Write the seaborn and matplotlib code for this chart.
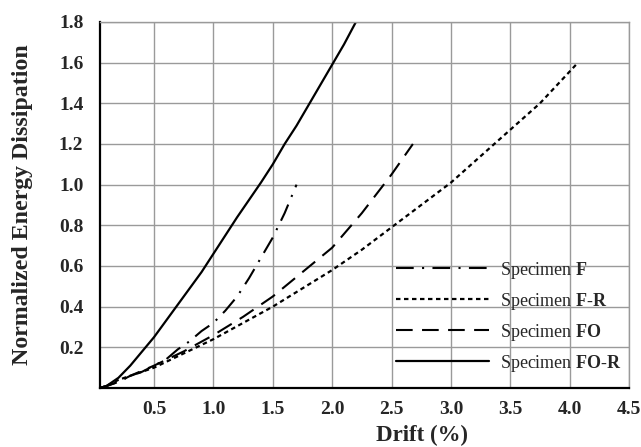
import matplotlib
matplotlib.use("Agg")
import matplotlib.pyplot as plt
import seaborn as sns
import pandas as pd

# ---- data ----
f_x = [0.045, 0.1, 0.2, 0.3, 0.4, 0.5, 0.6, 0.7, 0.8, 0.9, 1.0, 1.1, 1.2, 1.3, 1.4, 1.5, 1.6, 1.7]
f_y = [0.0, 0.01, 0.03, 0.06, 0.08, 0.11, 0.14, 0.19, 0.23, 0.28, 0.32, 0.38, 0.45, 0.54, 0.64, 0.74, 0.86, 1.0]

fr_x = [0.045, 0.1, 0.2, 0.3, 0.5, 0.75, 1.0, 1.25, 1.5, 1.75, 2.0, 2.25, 2.5, 2.75, 3.0, 3.25, 3.5, 3.75, 4.07]
fr_y = [0.0, 0.01, 0.04, 0.06, 0.10, 0.17, 0.24, 0.32, 0.40, 0.49, 0.58, 0.68, 0.79, 0.90, 1.01, 1.14, 1.27, 1.40, 1.60]

fo_x = [0.045, 0.1, 0.2, 0.3, 0.5, 0.75, 1.0, 1.25, 1.5, 1.75, 2.0, 2.25, 2.5, 2.68]
fo_y = [0.0, 0.01, 0.03, 0.06, 0.11, 0.18, 0.26, 0.35, 0.45, 0.57, 0.69, 0.86, 1.05, 1.20]

for_x = [0.045, 0.1, 0.2, 0.3, 0.4, 0.5, 0.6, 0.7, 0.8, 0.9, 1.0, 1.1, 1.2, 1.3, 1.4, 1.5, 1.6, 1.7, 1.8, 1.9, 2.0, 2.1, 2.2]
for_y = [0.0, 0.01, 0.05, 0.11, 0.18, 0.25, 0.33, 0.41, 0.49, 0.57, 0.66, 0.75, 0.84, 0.925, 1.01, 1.10, 1.20, 1.29, 1.39, 1.49, 1.59, 1.69, 1.80]

labels = ["Specimen $\\mathbf{F}$", "Specimen $\\mathbf{F}$-$\\mathbf{R}$",
          "Specimen $\\mathbf{FO}$", "Specimen $\\mathbf{FO}$-$\\mathbf{R}$"]
x_ticks = [0.5, 1.0, 1.5, 2.0, 2.5, 3.0, 3.5, 4.0, 4.5]
y_ticks = [0.2, 0.4, 0.6, 0.8, 1.0, 1.2, 1.4, 1.6, 1.8]

sns.set_style("white")
plt.rcParams["font.family"] = ["Liberation Serif", "DejaVu Serif"]
plt.rcParams["mathtext.fontset"] = "custom"
plt.rcParams["mathtext.rm"] = "Liberation Serif"
plt.rcParams["mathtext.bf"] = "Liberation Serif:bold"

fig = plt.figure(figsize=(6.41, 4.47), dpi=100)
ax = fig.add_axes([100 / 641, 59 / 447, 529 / 641, 366 / 447])

styles = [
    (f_x, f_y, (0, (8.5, 4, 1, 4)), 1.5),
    (fr_x, fr_y, (0, (2.0, 1.6)), 1.6),
    (fo_x, fo_y, (0, (8, 4.5)), 1.5),
    (for_x, for_y, "-", 1.6),
]
handles = []
for (xs, ys, ls, lw), lab in zip(styles, labels):
    df = pd.DataFrame({"x": xs, "y": ys})
    sns.lineplot(data=df, x="x", y="y", ax=ax, color="black", linestyle=ls,
                 linewidth=lw, sort=False, estimator=None)
    handles.append(ax.lines[-1])

ax.set_xlim(0.045, 4.5)
ax.set_ylim(0, 1.8)
ax.set_xticks(x_ticks)
ax.set_yticks(y_ticks)
ax.set_xticklabels([f"{v:.1f}" for v in x_ticks], fontweight="bold", fontsize=14)
ax.set_yticklabels([f"{v:.1f}" for v in y_ticks], fontweight="bold", fontsize=14)
ax.tick_params(axis="both", length=0)
ax.tick_params(axis="x", pad=9)
ax.tick_params(axis="y", pad=12)
ax.grid(True, color="#9a9a9a", linewidth=1.0)
ax.set_axisbelow(True)

for s in ["top", "right"]:
    ax.spines[s].set_color("#9a9a9a")
    ax.spines[s].set_linewidth(1.0)
for s in ["left", "bottom"]:
    ax.spines[s].set_color("black")
    ax.spines[s].set_linewidth(1.6)

ax.set_xlabel("Drift (%)", fontweight="bold", fontsize=16.5)
ax.set_ylabel("Normalized Energy Dissipation", fontweight="bold", fontsize=17.2)
ax.xaxis.set_label_coords(0.608, -0.1)
ax.yaxis.set_label_coords(-0.126, 0.5)

leg = ax.legend(handles, labels, loc="upper left", bbox_to_anchor=(0.545, 0.37),
                frameon=False, fontsize=13, handlelength=5.2, handletextpad=0.6,
                labelspacing=0.55, borderaxespad=0)

fig.savefig("out.png", dpi=100)
